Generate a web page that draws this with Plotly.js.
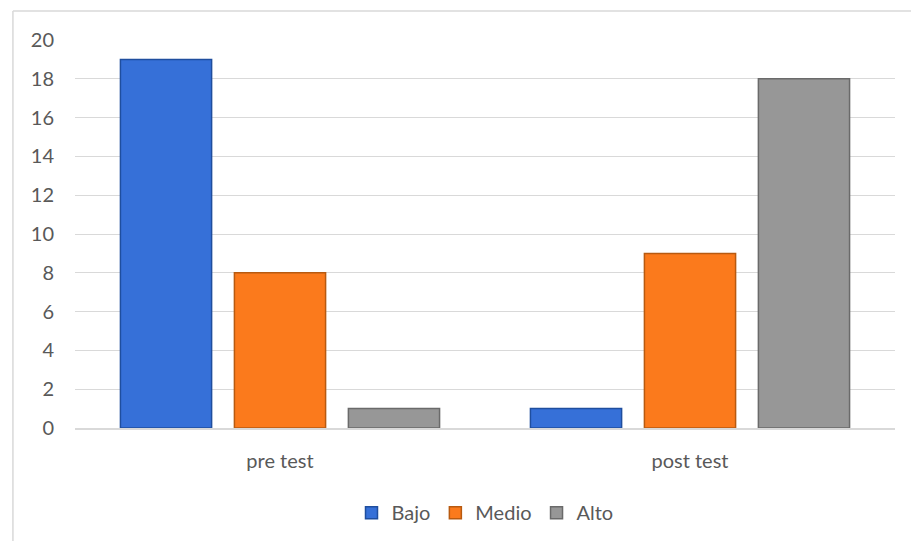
<!DOCTYPE html>
<html><head><meta charset="utf-8">
<script src="https://cdn.plot.ly/plotly-3.0.1.min.js"></script>
<style>html,body{margin:0;padding:0;background:#fff;}#chart{width:911px;height:541px;}</style>
</head><body><div id="chart"></div>
<script>
const categories = ["pre test", "post test"];
const seriesNames = ["Bajo", "Medio", "Alto"];
const bajo = [19, 1];
const medio = [8, 9];
const alto = [1, 18];
const yTicks = [0, 2, 4, 6, 8, 10, 12, 14, 16, 18, 20];

const colors = ["#3670d8", "#fb7a1c", "#979797"];
const lines = ["#1f4e9e", "#b85a10", "#6a6a6a"];
const values = [bajo, medio, alto];

const traces = seriesNames.map((n, i) => ({
  type: "bar", name: n, x: categories, y: values[i],
  marker: {color: colors[i], line: {color: lines[i], width: 1.5}},
  hoverinfo: "skip"
}));

const font = {family: "Lato, 'Open Sans', sans-serif", size: 20, color: "#595959"};
const layout = {
  width: 911, height: 541,
  margin: {l: 75, r: 16, t: 40, b: 113, autoexpand: false},
  paper_bgcolor: "#fff", plot_bgcolor: "#fff",
  font: font,
  barmode: "group", bargap: 0.166, bargroupgap: 0.2,
  showlegend: true,
  legend: {orientation: "h", x: 0.5, xanchor: "center", xref: "paper", y: -0.168, yanchor: "top",
           font: font, itemwidth: 30, traceorder: "normal"},
  xaxis: {showgrid: false, showline: true, linecolor: "#d9d9d9", linewidth: 1.5,
          ticks: "", tickfont: font, zeroline: false, ticklabelstandoff: 14},
  yaxis: {range: [0, 20], tickvals: yTicks, showgrid: true, gridcolor: "#d9d9d9", gridwidth: 1,
          zeroline: false, showline: false, ticks: "", tickfont: font, ticklabelstandoff: 20},
  shapes: [
    {type: "line", xref: "paper", yref: "paper", x0: -0.0757, x1: -0.0757, y0: 1.075, y1: -0.3, line: {color: "#d9d9d9", width: 1.5}},
    {type: "line", xref: "paper", yref: "paper", x0: -0.0757, x1: 1.05, y0: 1.075, y1: 1.075, line: {color: "#d9d9d9", width: 1.5}}
  ]
};
Plotly.newPlot("chart", traces, layout, {displayModeBar: false, staticPlot: true});
</script></body></html>
